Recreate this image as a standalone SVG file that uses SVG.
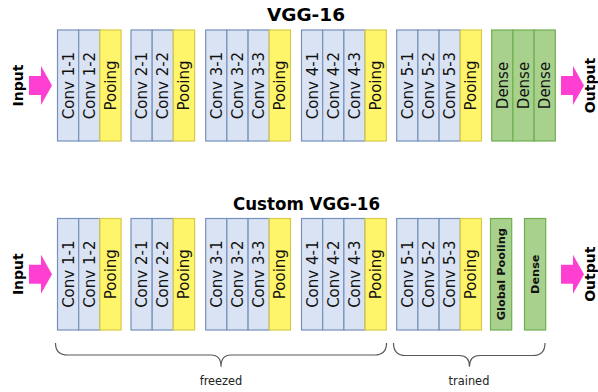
<svg xmlns="http://www.w3.org/2000/svg" width="598" height="392" viewBox="0 0 598 392">
<style>
.conv{fill:#dae3f3;stroke:#7591bd;stroke-width:1.2}
.pool{fill:#fff56a;stroke:#d8c94a;stroke-width:1.2}
.dense{fill:#a9d18e;stroke:#6fae4f;stroke-width:1.2}
.lbl{font-family:"DejaVu Sans",sans-serif;font-size:15px;fill:#111;text-anchor:middle}
.lblb{font-family:"DejaVu Sans",sans-serif;font-size:11.3px;font-weight:bold;fill:#111;text-anchor:middle}
.title{font-family:"DejaVu Sans",sans-serif;font-size:18px;font-weight:bold;fill:#000;text-anchor:middle}
.io{font-family:"DejaVu Sans",sans-serif;font-size:14px;font-weight:bold;fill:#000;text-anchor:middle}
.arr{fill:#ff3fd2}
.brace{fill:none;stroke:#595959;stroke-width:1.2}
.cap{font-family:"DejaVu Sans",sans-serif;font-size:11.4px;fill:#222;text-anchor:middle}
</style>
<defs>
<polygon id="arrow" class="arr" points="0,-9.5 12,-9.5 12,-19.5 23,0 12,19.5 12,9.5 0,9.5"/>
</defs>

<text class="title" x="306" y="21" textLength="78" lengthAdjust="spacingAndGlyphs">VGG-16</text>
<text class="title" x="306.5" y="210" textLength="147" lengthAdjust="spacingAndGlyphs">Custom VGG-16</text>

<!-- Top row -->
<g id="top-input"><text class="io" transform="translate(18,85.5) rotate(-90)" dy="0.36em">Input</text></g>
<g id="top-input-arrow"><use href="#arrow" x="29" y="85.5"/></g>

<g id="top-block1">
<rect class="conv" x="57.5" y="30" width="21.2" height="111"/><text class="lbl" transform="translate(68.1,85.5) rotate(-90)" dy="0.36em">Conv 1-1</text>
<rect class="conv" x="78.7" y="30" width="21.2" height="111"/><text class="lbl" transform="translate(89.3,85.5) rotate(-90)" dy="0.36em">Conv 1-2</text>
<rect class="pool" x="99.9" y="30" width="21.2" height="111"/><text class="lbl" transform="translate(110.5,85.5) rotate(-90)" dy="0.36em">Pooing</text>
</g>
<g id="top-block2">
<rect class="conv" x="131" y="30" width="21.2" height="111"/><text class="lbl" transform="translate(141.6,85.5) rotate(-90)" dy="0.36em">Conv 2-1</text>
<rect class="conv" x="152.2" y="30" width="21.2" height="111"/><text class="lbl" transform="translate(162.8,85.5) rotate(-90)" dy="0.36em">Conv 2-2</text>
<rect class="pool" x="173.4" y="30" width="21.2" height="111"/><text class="lbl" transform="translate(184,85.5) rotate(-90)" dy="0.36em">Pooing</text>
</g>
<g id="top-block3">
<rect class="conv" x="205.7" y="30" width="21.2" height="111"/><text class="lbl" transform="translate(216.3,85.5) rotate(-90)" dy="0.36em">Conv 3-1</text>
<rect class="conv" x="226.9" y="30" width="21.2" height="111"/><text class="lbl" transform="translate(237.5,85.5) rotate(-90)" dy="0.36em">Conv 3-2</text>
<rect class="conv" x="248.1" y="30" width="21.2" height="111"/><text class="lbl" transform="translate(258.7,85.5) rotate(-90)" dy="0.36em">Conv 3-3</text>
<rect class="pool" x="269.3" y="30" width="21.2" height="111"/><text class="lbl" transform="translate(279.9,85.5) rotate(-90)" dy="0.36em">Pooing</text>
</g>
<g id="top-block4">
<rect class="conv" x="301.5" y="30" width="21.2" height="111"/><text class="lbl" transform="translate(312.1,85.5) rotate(-90)" dy="0.36em">Conv 4-1</text>
<rect class="conv" x="322.7" y="30" width="21.2" height="111"/><text class="lbl" transform="translate(333.3,85.5) rotate(-90)" dy="0.36em">Conv 4-2</text>
<rect class="conv" x="343.9" y="30" width="21.2" height="111"/><text class="lbl" transform="translate(354.5,85.5) rotate(-90)" dy="0.36em">Conv 4-3</text>
<rect class="pool" x="365.1" y="30" width="21.2" height="111"/><text class="lbl" transform="translate(375.7,85.5) rotate(-90)" dy="0.36em">Pooing</text>
</g>
<g id="top-block5">
<rect class="conv" x="396.7" y="30" width="21.2" height="111"/><text class="lbl" transform="translate(407.3,85.5) rotate(-90)" dy="0.36em">Conv 5-1</text>
<rect class="conv" x="417.9" y="30" width="21.2" height="111"/><text class="lbl" transform="translate(428.5,85.5) rotate(-90)" dy="0.36em">Conv 5-2</text>
<rect class="conv" x="439.1" y="30" width="21.2" height="111"/><text class="lbl" transform="translate(449.7,85.5) rotate(-90)" dy="0.36em">Conv 5-3</text>
<rect class="pool" x="460.3" y="30" width="21.2" height="111"/><text class="lbl" transform="translate(470.9,85.5) rotate(-90)" dy="0.36em">Pooing</text>
</g>
<g id="top-dense">
<rect class="dense" x="491.7" y="30" width="21.2" height="111"/><text class="lbl" transform="translate(502.3,85.5) rotate(-90)" dy="0.36em">Dense</text>
<rect class="dense" x="512.9" y="30" width="21.2" height="111"/><text class="lbl" transform="translate(523.5,85.5) rotate(-90)" dy="0.36em">Dense</text>
<rect class="dense" x="534.1" y="30" width="21.2" height="111"/><text class="lbl" transform="translate(544.7,85.5) rotate(-90)" dy="0.36em">Dense</text>
</g>
<g id="top-output-arrow"><use href="#arrow" x="561" y="85.5"/></g>
<g id="top-output"><text class="io" transform="translate(590,85.5) rotate(-90)" dy="0.36em">Output</text></g>

<!-- Bottom row -->
<g id="bot-input"><text class="io" transform="translate(18,274.2) rotate(-90)" dy="0.36em">Input</text></g>
<g id="bot-input-arrow"><use href="#arrow" x="29" y="274.2"/></g>

<g id="bot-block1">
<rect class="conv" x="57.5" y="218.5" width="21.2" height="111.5"/><text class="lbl" transform="translate(68.1,274.2) rotate(-90)" dy="0.36em">Conv 1-1</text>
<rect class="conv" x="78.7" y="218.5" width="21.2" height="111.5"/><text class="lbl" transform="translate(89.3,274.2) rotate(-90)" dy="0.36em">Conv 1-2</text>
<rect class="pool" x="99.9" y="218.5" width="21.2" height="111.5"/><text class="lbl" transform="translate(110.5,274.2) rotate(-90)" dy="0.36em">Pooing</text>
</g>
<g id="bot-block2">
<rect class="conv" x="131" y="218.5" width="21.2" height="111.5"/><text class="lbl" transform="translate(141.6,274.2) rotate(-90)" dy="0.36em">Conv 2-1</text>
<rect class="conv" x="152.2" y="218.5" width="21.2" height="111.5"/><text class="lbl" transform="translate(162.8,274.2) rotate(-90)" dy="0.36em">Conv 2-2</text>
<rect class="pool" x="173.4" y="218.5" width="21.2" height="111.5"/><text class="lbl" transform="translate(184,274.2) rotate(-90)" dy="0.36em">Pooing</text>
</g>
<g id="bot-block3">
<rect class="conv" x="205.7" y="218.5" width="21.2" height="111.5"/><text class="lbl" transform="translate(216.3,274.2) rotate(-90)" dy="0.36em">Conv 3-1</text>
<rect class="conv" x="226.9" y="218.5" width="21.2" height="111.5"/><text class="lbl" transform="translate(237.5,274.2) rotate(-90)" dy="0.36em">Conv 3-2</text>
<rect class="conv" x="248.1" y="218.5" width="21.2" height="111.5"/><text class="lbl" transform="translate(258.7,274.2) rotate(-90)" dy="0.36em">Conv 3-3</text>
<rect class="pool" x="269.3" y="218.5" width="21.2" height="111.5"/><text class="lbl" transform="translate(279.9,274.2) rotate(-90)" dy="0.36em">Pooing</text>
</g>
<g id="bot-block4">
<rect class="conv" x="301.5" y="218.5" width="21.2" height="111.5"/><text class="lbl" transform="translate(312.1,274.2) rotate(-90)" dy="0.36em">Conv 4-1</text>
<rect class="conv" x="322.7" y="218.5" width="21.2" height="111.5"/><text class="lbl" transform="translate(333.3,274.2) rotate(-90)" dy="0.36em">Conv 4-2</text>
<rect class="conv" x="343.9" y="218.5" width="21.2" height="111.5"/><text class="lbl" transform="translate(354.5,274.2) rotate(-90)" dy="0.36em">Conv 4-3</text>
<rect class="pool" x="365.1" y="218.5" width="21.2" height="111.5"/><text class="lbl" transform="translate(375.7,274.2) rotate(-90)" dy="0.36em">Pooing</text>
</g>
<g id="bot-block5">
<rect class="conv" x="396.7" y="218.5" width="21.2" height="111.5"/><text class="lbl" transform="translate(407.3,274.2) rotate(-90)" dy="0.36em">Conv 5-1</text>
<rect class="conv" x="417.9" y="218.5" width="21.2" height="111.5"/><text class="lbl" transform="translate(428.5,274.2) rotate(-90)" dy="0.36em">Conv 5-2</text>
<rect class="conv" x="439.1" y="218.5" width="21.2" height="111.5"/><text class="lbl" transform="translate(449.7,274.2) rotate(-90)" dy="0.36em">Conv 5-3</text>
<rect class="pool" x="460.3" y="218.5" width="21.2" height="111.5"/><text class="lbl" transform="translate(470.9,274.2) rotate(-90)" dy="0.36em">Pooing</text>
</g>
<g id="bot-global-pooling">
<rect class="dense" x="490.5" y="218.5" width="21.2" height="111.5"/><text class="lblb" transform="translate(501.1,274.2) rotate(-90)" dy="0.36em">Global Pooling</text>
</g>
<g id="bot-dense">
<rect class="dense" x="524.5" y="218.5" width="21.2" height="111.5"/><text class="lblb" transform="translate(535.1,274.2) rotate(-90)" dy="0.36em">Dense</text>
</g>
<g id="bot-output-arrow"><use href="#arrow" x="561" y="274.2"/></g>
<g id="bot-output"><text class="io" transform="translate(590,274.2) rotate(-90)" dy="0.36em">Output</text></g>

<!-- Braces -->
<g id="connectors">
<path class="brace" d="M55.5,343 Q55.5,355 67.5,355 L211,355 Q221,355 221,366.7 Q221,355 231,355 L374.5,355 Q386.5,355 386.5,343"/>
<path class="brace" d="M393.5,343 Q393.5,355.5 405.5,355.5 L459.5,355.5 Q469.5,355.5 469.5,366.7 Q469.5,355.5 479.5,355.5 L533,355.5 Q545,355.5 545,343"/>
</g>
<text class="cap" x="221" y="385">freezed</text>
<text class="cap" x="469" y="385">trained</text>
</svg>
